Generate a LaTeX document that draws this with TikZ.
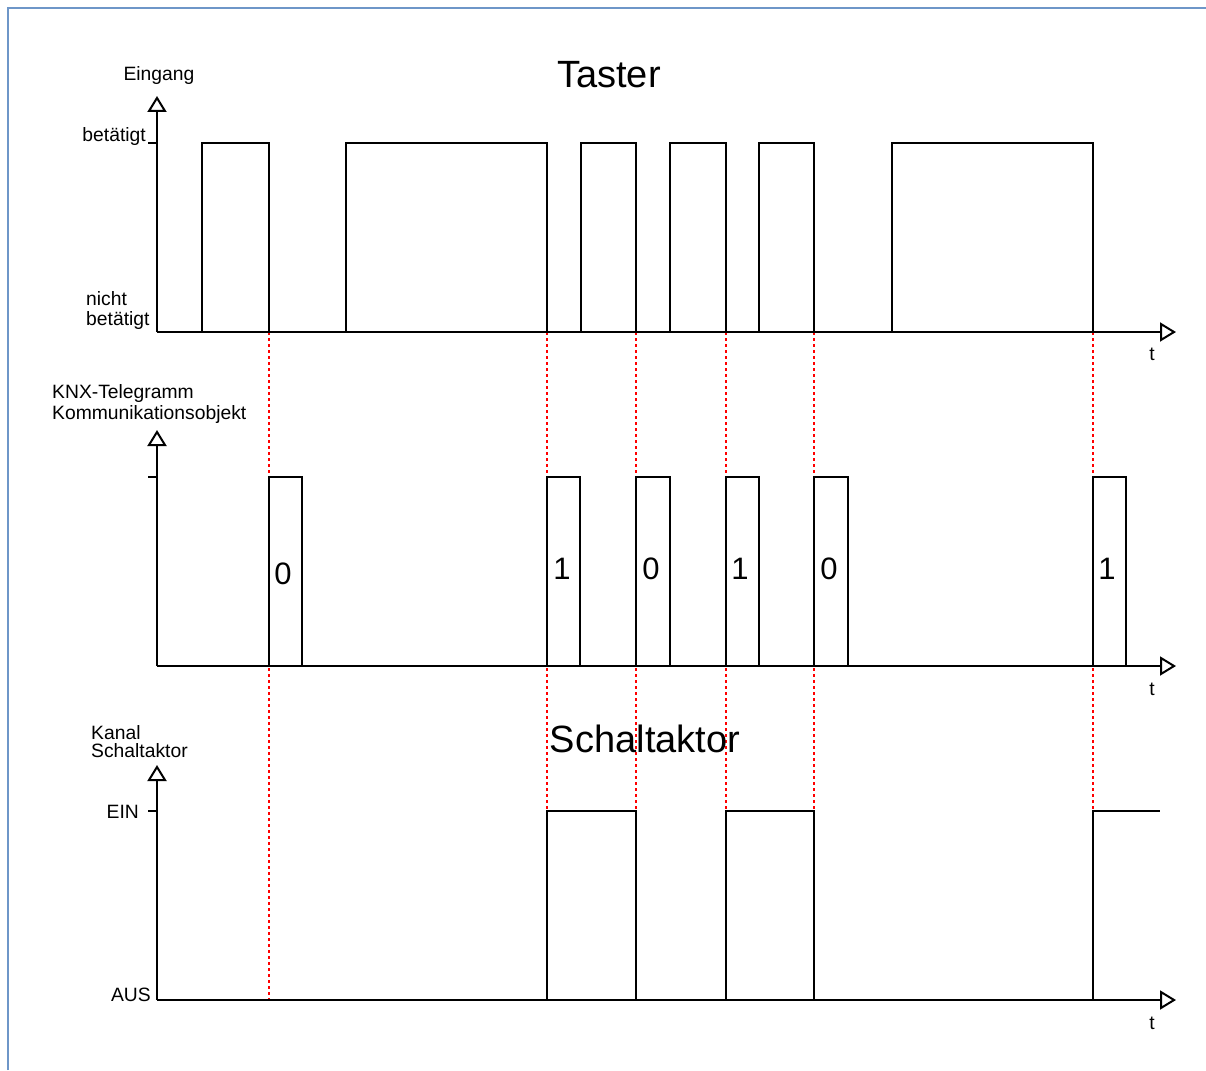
\documentclass[tikz,border=0pt]{standalone}
\usepackage{fontspec}
\setmainfont{Liberation Sans}
\usetikzlibrary{arrows.meta}
\definecolor{framecol}{RGB}{110,150,200}
\begin{document}
\begin{tikzpicture}[x=1pt,y=-1pt,
 sig/.style={line width=2pt, black},
 axis/.style={line width=2pt, black, -{Triangle[open,length=16pt,width=19pt]}},
 guide/.style={red, line width=2pt, dash pattern=on 3pt off 3pt},
 tick/.style={line width=1.7pt, black},
 lbl/.style={font=\fontsize{19.3}{21}\selectfont, inner sep=0pt},
 big/.style={font=\fontsize{38}{40}\selectfont, inner sep=0pt},
 digit/.style={font=\fontsize{31}{33}\selectfont, inner sep=0pt}]
\useasboundingbox (0,0) rectangle (1206,1070);
% frame
\draw[framecol, line width=2pt] (8,1070) -- (8,8) -- (1206,8);

% guides
\foreach \x in {269,547,636,726,814,1093}
  \draw[guide] (\x,332) -- (\x,1000);

% ---------- top panel ----------
\coordinate (o1) at (157,332);
\coordinate (y1) at (157,96);
\coordinate (x1) at (1176,332);
\draw[axis] (o1) -- (y1);
\draw[axis] (o1) -- (x1);
\coordinate (t1a) at (148,143);
\coordinate (t1b) at (157,143);
\draw[tick] (t1a) -- (t1b);
\foreach \a/\b in {202/269,346/547,581/636,670/726,759/814,892/1093}
  \draw[sig] (\a,332) -- (\a,143) -- (\b,143) -- (\b,332);
\node[lbl] (eingang) at (159,76) {Eingang};
\node[lbl, anchor=east] (bet) at (146,137) {betätigt};
\node[lbl, anchor=west] (nicht) at (86,299) {nicht};
\node[lbl, anchor=west] (nbet) at (86,321) {betätigt};
\node[lbl] (t1) at (1152,354) {t};
\node[big] (taster) at (609,75) {Taster};

% ---------- middle panel ----------
\coordinate (o2) at (157,666);
\coordinate (y2) at (157,430);
\coordinate (x2) at (1176,666);
\draw[axis] (o2) -- (y2);
\draw[axis] (o2) -- (x2);
\coordinate (t2a) at (148,477);
\coordinate (t2b) at (157,477);
\draw[tick] (t2a) -- (t2b);
\foreach \a/\b in {269/302,547/580,636/670,726/759,814/848,1093/1126}
  \draw[sig] (\a,666) -- (\a,477) -- (\b,477) -- (\b,666);
\node[digit] (d1) at (283,574) {0};
\node[digit] (d2) at (562,569) {1};
\node[digit] (d3) at (651,569) {0};
\node[digit] (d4) at (740,569) {1};
\node[digit] (d5) at (829,569) {0};
\node[digit] (d6) at (1107,569) {1};
\node[lbl, anchor=west] (knx) at (52,394) {KNX-Telegramm};
\node[lbl, anchor=west] (ko) at (52,415) {Kommunikationsobjekt};
\node[lbl] (t2) at (1152,689) {t};

% ---------- bottom panel ----------
\coordinate (o3) at (157,1000);
\coordinate (y3) at (157,765);
\coordinate (x3) at (1176,1000);
\draw[axis] (o3) -- (y3);
\draw[axis] (o3) -- (x3);
\coordinate (t3a) at (148,811);
\coordinate (t3b) at (157,811);
\draw[tick] (t3a) -- (t3b);
\foreach \a/\b in {547/636,726/814}
  \draw[sig] (\a,1000) -- (\a,811) -- (\b,811) -- (\b,1000);
\draw[sig] (1093,1000) -- (1093,811) -- (1160,811);
\node[lbl, anchor=west] (kanal) at (91,733) {Kanal};
\node[lbl, anchor=west] (schalt) at (91,751) {Schaltaktor};
\node[lbl, anchor=east] (ein) at (139,812) {EIN};
\node[lbl, anchor=east] (aus) at (151,995) {AUS};
\node[lbl] (t3) at (1152,1023) {t};
\node[big] (schaltbig) at (645,739) {Schaltaktor};
\end{tikzpicture}
\end{document}
